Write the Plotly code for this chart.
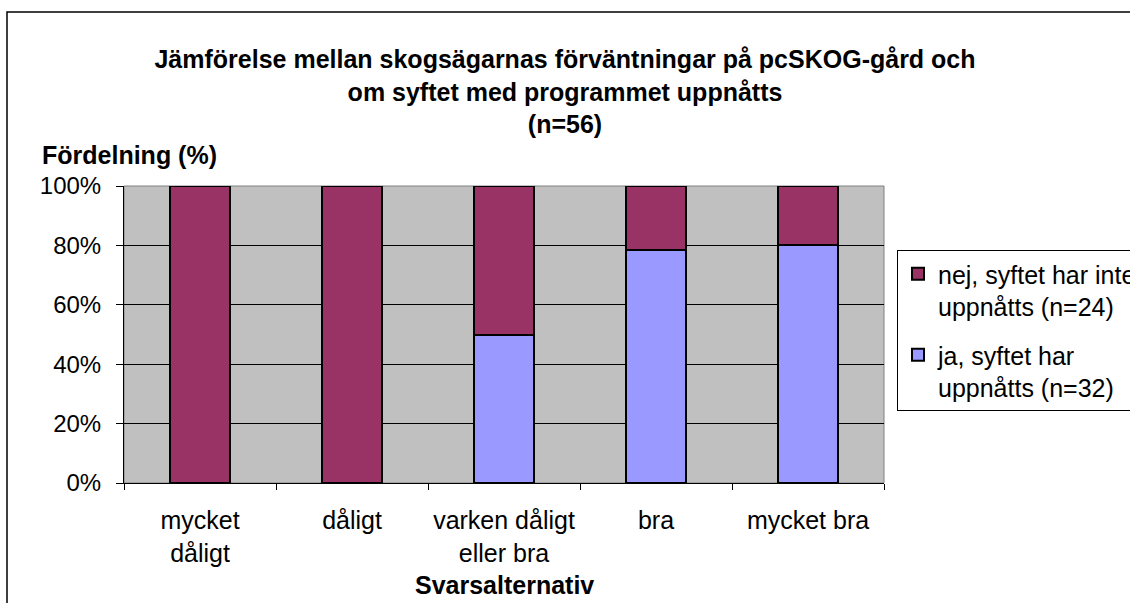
import plotly.graph_objects as go

categories = ["mycket<br>dåligt", "dåligt", "varken dåligt<br>eller bra", "bra", "mycket bra"]
ja_values = [0, 0, 50, 78.5, 80]
nej_values = [100, 100, 50, 21.5, 20]
series_names = ["ja, syftet har<br>uppnåtts (n=32)", "nej, syftet har inte<br>uppnåtts (n=24)"]
y_ticks = [0, 20, 40, 60, 80, 100]
y_tick_labels = ["0%", "20%", "40%", "60%", "80%", "100%"]

FONT = "Arial, Liberation Sans, sans-serif"

L, R, T, B = 124, 246, 186, 120
W, H = 1130, 603
pw, ph = W - L - R, H - T - B

def px_x(x):
    return (x - L) / pw

def px_y(y):
    return (H - B - y) / ph

fig = go.Figure()
fig.add_trace(go.Bar(
    x=categories, y=ja_values, name=series_names[0],
    marker=dict(color="#9999FF", line=dict(color="black", width=2)),
    width=0.4, legendgroup="ja", legendrank=2,
))
fig.add_trace(go.Bar(
    x=categories, y=nej_values, name=series_names[1],
    marker=dict(color="#993366", line=dict(color="black", width=2)),
    width=0.4, legendgroup="nej", legendrank=1,
))

fig.update_layout(
    width=W, height=H,
    margin=dict(l=L, r=R, t=T, b=B, pad=0, autoexpand=False),
    barmode="stack",
    paper_bgcolor="white",
    plot_bgcolor="#C0C0C0",
    font=dict(family=FONT, size=24, color="black"),
    title=dict(
        text="<b>Jämförelse mellan skogsägarnas förväntningar på pcSKOG-gård och<br>om syftet med programmet uppnåtts<br>(n=56)</b>",
        x=0.5, xref="container", xanchor="center",
        y=1 - 68 / H, yref="container", yanchor="top",
        font=dict(family=FONT, size=25, color="black"),
    ),
    showlegend=True,
    legend=dict(
        xref="container", yref="container",
        x=897 / W, y=1 - 250 / H, xanchor="left", yanchor="top",
        bgcolor="white", bordercolor="black", borderwidth=1,
        font=dict(family=FONT, size=25, color="black"),
        traceorder="grouped", tracegroupgap=13,
        itemwidth=30, valign="top",
    ),
    bargap=0.6,
)

fig.update_xaxes(
    type="category",
    showgrid=False,
    showline=True, linecolor="black", linewidth=1,
    ticks="outside", tickson="boundaries", ticklen=6, tickcolor="black",
    tickfont=dict(family=FONT, size=25),
    tickangle=0,
    ticklabelstandoff=15,
    automargin=False,
    title=None,
)
fig.update_yaxes(
    range=[0, 100],
    tickvals=y_ticks, ticktext=y_tick_labels,
    showgrid=True, gridcolor="black", gridwidth=1,
    showline=True, linecolor="black", linewidth=1,
    ticks="outside", ticklen=7, tickcolor="black",
    tickfont=dict(family=FONT, size=24),
    ticklabelstandoff=10,
    automargin=False,
    zeroline=False,
)

# plot-area border (grey top/right) and outer chart border
fig.add_shape(type="rect", xref="paper", yref="paper", x0=0, x1=1, y0=0, y1=1,
              line=dict(color="#808080", width=1), layer="below")
fig.add_shape(type="rect", xref="paper", yref="paper",
              x0=px_x(7), x1=px_x(W + 20), y0=px_y(H + 20), y1=px_y(12),
              line=dict(color="black", width=1.5))

fig.add_annotation(text="<b>Fördelning (%)</b>", xref="paper", yref="paper",
                   x=px_x(40), y=px_y(155), xanchor="left", yanchor="middle",
                   showarrow=False, font=dict(family=FONT, size=25, color="black"))
fig.add_annotation(text="<b>Svarsalternativ</b>", xref="paper", yref="paper",
                   x=0.5, y=px_y(585), xanchor="center", yanchor="middle",
                   showarrow=False, font=dict(family=FONT, size=25, color="black"))

fig.write_html("out.html", config={"displayModeBar": False},
               post_script="document.body.style.margin='0';document.body.style.overflow='hidden';")
